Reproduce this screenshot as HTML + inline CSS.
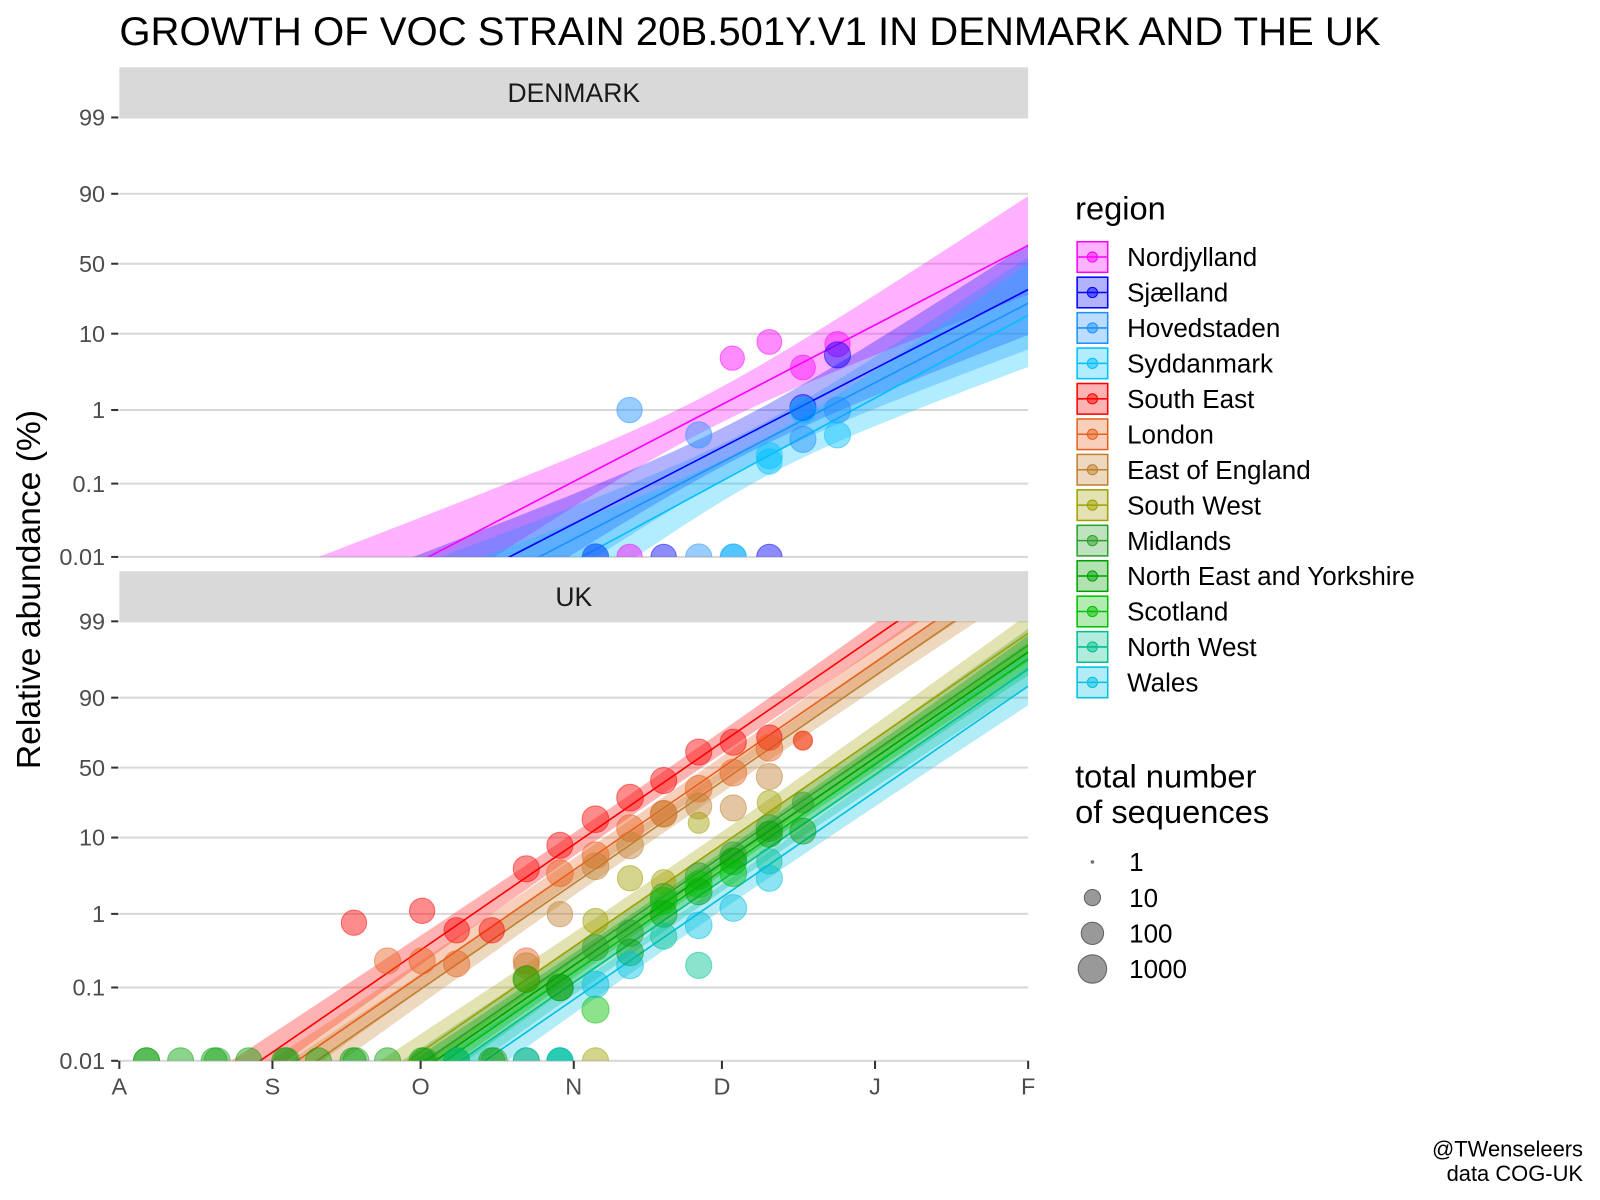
<!DOCTYPE html>
<html><head><meta charset="utf-8">
<style>
html,body{margin:0;padding:0;background:#fff;overflow:hidden;width:1600px;height:1200px;}
svg{display:block;font-family:"Liberation Sans",Arial,sans-serif;}
</style></head>
<body>
<svg id="chart" width="1600" height="1200" viewBox="0 0 1600 1200" xmlns="http://www.w3.org/2000/svg">
<defs>
<clipPath id="clipDK"><rect x="117" y="115" width="891" height="431"/></clipPath>
<clipPath id="clipUK"><rect x="117" y="609" width="891" height="431"/></clipPath>
</defs>
<g transform="scale(1.02)">
<text x="117" y="44" font-size="39.3" fill="#000">GROWTH OF VOC STRAIN 20B.501Y.V1 IN DENMARK AND THE UK</text>
<text transform="translate(39,578) rotate(-90)" text-anchor="middle" font-size="33" fill="#000">Relative abundance (%)</text>
<text x="1552" y="1134" text-anchor="end" font-size="21.5">@TWenseleers</text>
<text x="1552" y="1158" text-anchor="end" font-size="21.5">data COG-UK</text>
<g id="plot"></g>
<g id="legend"></g>
</g>
</svg>
<script>
// ---- data ----
const xTickLabels = ["A","S","O","N","D","J","F"];
const xTickDays = [0,31,61,92,122,153,184];          // days since Aug 1
const yTickLabels = ["99","90","50","10","1","0.1","0.01"];
const yTickPct = [99,90,50,10,1,0.1,0.01];
const panels = ["DENMARK","UK"];
const regionNames = ["Nordjylland","Sjælland","Hovedstaden","Syddanmark","South East","London","East of England","South West","Midlands","North East and Yorkshire","Scotland","North West","Wales"];
const regionColors = ["#FF00FF","#0000FF","#1E90FF","#00BFFF","#FF0000","#E8601C","#C08030","#A0A000","#2CA02C","#00A000","#00C000","#00C090","#00C0E0"];
const regionPanel = [0,0,0,0,1,1,1,1,1,1,1,1,1];
// fitted lines: day where abundance crosses 0.01% and slope (logit per day)
const lineStartDay = [62.6,79,85,93.6,28.5,36,40,58.5,62,64,66,69,74];
const lineSlope = [0.0806,0.080,0.0805,0.084,0.107,0.107,0.107,0.107,0.107,0.107,0.107,0.107,0.107];
// confidence band: min half-width (logit), center day, widening rate
const bandSe0 = [0.55,0.6,0.55,0.6,0.35,0.35,0.35,0.4,0.35,0.35,0.35,0.35,0.4];
const bandCenter = [118,125,128,130,110,110,115,120,120,120,120,120,120];
const bandGrow = [0.022,0.022,0.024,0.028,0.006,0.006,0.006,0.007,0.006,0.006,0.006,0.006,0.007];
// observed points per region: day, percent, n
const ptDay = [
 [124.1,131.6,138.4,145.4,103.3],
 [145.4,138.4,96.4,110.2,131.6],
 [103.3,117.3,138.4,145.4,96.4,117.3,124.3],
 [131.6,145.4,131.6,138.4,124.3],
 [47.5,61.3,68.3,75.4,82.4,89.2,96.4,103.4,110.2,117.3,124.3,131.6,138.4],
 [54.3,61.3,68.3,82.4,89.2,96.4,103.4,110.2,117.3,124.3,131.6,138.4],
 [89.2,96.4,103.4,110.2,117.3,124.3,131.6,82.4],
 [103.4,110.2,117.3,131.6,96.4,82.4,96.4],
 [96.4,103.4,110.2,117.3,124.3,131.6,138.4,5.5,19.8,33.9,47.9,61.8,75.9,89.2],
 [82.4,89.2,103.4,110.2,117.3,124.3,131.6,138.4,5.5,12.4,19.2,26.2,33.5,40.3,47.3,54.3,61.3,68.3,75.4,82.4],
 [96.4,110.2,117.3,124.3,89.2],
 [117.3,110.2,131.6,89.2,68.3],
 [96.4,103.4,117.3,124.3,131.6,82.4,89.2]
];
const ptPct = [
 [4.9,7.9,3.7,7.4,0.01],
 [5.4,1.08,0.01,0.01,0.01],
 [1.0,0.46,0.4,1.0,0.01,0.01,0.01],
 [0.24,0.46,0.2,1.0,0.01],
 [0.76,1.1,0.6,0.6,4,8,16.5,28,40,62,69,72,70],
 [0.23,0.23,0.21,0.23,3.5,6,13,19,34,46,65,70],
 [0.99,4.3,8,19,23,22,43,0.2],
 [3,2.7,15,25,0.01,0.13,0.8],
 [0.35,0.55,1.7,3.2,6,13,25,0.01,0.01,0.01,0.01,0.01,0.01,0.1],
 [0.13,0.1,0.3,1.0,2.0,5,11,12,0.01,0.01,0.01,0.01,0.01,0.01,0.01,0.01,0.01,0.01,0.01,0.01],
 [0.05,1.5,2.5,3.5,0.01],
 [0.2,0.5,5,0.01,0.01],
 [0.11,0.2,0.7,1.2,3,0.01,0.01]
];
const ptN = [
 [200,250,250,300,300],
 [400,400,400,300,300],
 [300,400,400,400,400,400,400],
 [400,400,300,400,300],
 [300,300,300,300,400,400,500,500,400,400,400,300,30],
 [400,400,400,400,500,500,500,500,500,500,500,20],
 [300,500,500,400,400,400,400,300],
 [300,200,60,200,400,300,300],
 [400,500,500,500,500,500,60,400,400,400,400,400,400,500],
 [500,500,500,500,500,500,400,400,400,400,400,400,400,400,400,400,400,400,400,400],
 [600,500,500,500,400],
 [400,400,300,400,400],
 [500,500,500,500,400,400,400]
];
const sizeLegendN = [1,10,100,1000];
const sizeLegendLabels = ["1","10","100","1000"];

// ---- scales ----
const NS="http://www.w3.org/2000/svg";
const X0=117, X1=1008, DAYS=184;
const panelTop=[115,609];
const LMAX=4.6, LMIN=-9.21, PPU=(546-115)/(LMAX-LMIN);
function xs(d){return X0+(X1-X0)*d/DAYS;}
function logit(p){p=p/100;return Math.log(p/(1-p));}
function ys(l,pi){return panelTop[pi]+(LMAX-l)*PPU;}
function rs(n){return n<=1?1.3:5+3*Math.log10(n);}
function mk(tag,attrs,parent){const e=document.createElementNS(NS,tag);for(const k in attrs)e.setAttribute(k,attrs[k]);parent.appendChild(e);return e;}
const plot=document.getElementById('plot');

panels.forEach((name,pi)=>{
  const g=mk('g',{},plot);
  
  
  const strip=mk('rect',{x:X0,y:panelTop[pi]-49,width:X1-X0,height:49,fill:'#D9D9D9'},g);
  
  
  const st=mk('text',{x:(X0+X1)/2,y:panelTop[pi]-15,'text-anchor':'middle','font-size':26,fill:'#1a1a1a'},g);
  st.textContent=name;
  
  
  yTickPct.forEach((p,i)=>{
    const y=ys(logit(p),pi);
    const gl=mk('line',{x1:X0,x2:X1,y1:y,y2:y,stroke:'#D9D9D9','stroke-width':2},g);
    
    
    mk('line',{x1:109,x2:116,y1:y,y2:y,stroke:'#333','stroke-width':2},g);
    const t=mk('text',{x:103,y:y+8,'text-anchor':'end','font-size':23,fill:'#4d4d4d'},g);
    t.textContent=yTickLabels[i];
    
    
  });
  const cg=mk('g',{'clip-path':pi===0?'url(#clipDK)':'url(#clipUK)'},g);
  regionNames.forEach((rn,ri)=>{
    if(regionPanel[ri]!==pi)return;
    const up=[],lo=[];
    for(let d=0;d<=DAYS;d+=2){
      const l=-9.21+lineSlope[ri]*(d-lineStartDay[ri]);
      const se=Math.sqrt(bandSe0[ri]**2+(bandGrow[ri]*(d-bandCenter[ri]))**2);
      up.push(xs(d)+','+ys(l+se,pi));lo.unshift(xs(d)+','+ys(l-se,pi));
    }
    const rb=mk('polygon',{points:up.concat(lo).join(' '),fill:regionColors[ri],'fill-opacity':0.3},cg);
    
    
  });
  regionNames.forEach((rn,ri)=>{
    if(regionPanel[ri]!==pi)return;
    const l0=-9.21+lineSlope[ri]*(0-lineStartDay[ri]);
    const l1=-9.21+lineSlope[ri]*(DAYS-lineStartDay[ri]);
    const ln=mk('line',{x1:xs(0),y1:ys(l0,pi),x2:xs(DAYS),y2:ys(l1,pi),stroke:regionColors[ri],'stroke-width':1.6},cg);
    
    
  });
  regionNames.forEach((rn,ri)=>{
    if(regionPanel[ri]!==pi)return;
    ptDay[ri].forEach((d,k)=>{
      const c=mk('circle',{cx:xs(d),cy:ys(logit(ptPct[ri][k]),pi),r:rs(ptN[ri][k]),fill:regionColors[ri],'fill-opacity':0.45,stroke:regionColors[ri],'stroke-opacity':0.5},cg);
      
      
    });
  });
});
const xa=mk('g',{},plot);


xTickDays.forEach((d,i)=>{
  mk('line',{x1:xs(d),x2:xs(d),y1:1040,y2:1048,stroke:'#333','stroke-width':2},xa);
  const t=mk('text',{x:xs(d),y:1073,'text-anchor':'middle','font-size':23,fill:'#4d4d4d'},xa);
  t.textContent=xTickLabels[i];
  
  
});
const lg=document.getElementById('legend');
const lt=mk('text',{x:1054,y:215,'font-size':32},lg);
lt.textContent='region';


regionNames.forEach((rn,i)=>{
  const y=252+i*34.75;
  const e=mk('g',{},lg);
  
  
  mk('rect',{x:1056,y:y-15,width:30,height:30,fill:regionColors[i],'fill-opacity':0.3,stroke:regionColors[i],'stroke-width':1.5},e);
  mk('line',{x1:1056,x2:1086,y1:y,y2:y,stroke:regionColors[i],'stroke-width':1.5},e);
  mk('circle',{cx:1071,cy:y,r:5,fill:regionColors[i],'fill-opacity':0.5,stroke:regionColors[i]},e);
  const t=mk('text',{x:1105,y:y+9,'font-size':25.5},e);
  t.textContent=rn;
});
const st1=mk('text',{x:1054,y:772,'font-size':32},lg);
st1.textContent='total number';


const st2=mk('text',{x:1054,y:807,'font-size':32},lg);
st2.textContent='of sequences';
sizeLegendN.forEach((n,i)=>{
  const y=845+i*35;
  const e=mk('g',{},lg);
  
  
  mk('circle',{cx:1071,cy:y,r:rs(n),fill:'#000','fill-opacity':0.4,stroke:'#000','stroke-opacity':0.5},e);
  const t=mk('text',{x:1107,y:y+9,'font-size':25.5},e);
  t.textContent=sizeLegendLabels[i];
});
</script>
</body></html>
